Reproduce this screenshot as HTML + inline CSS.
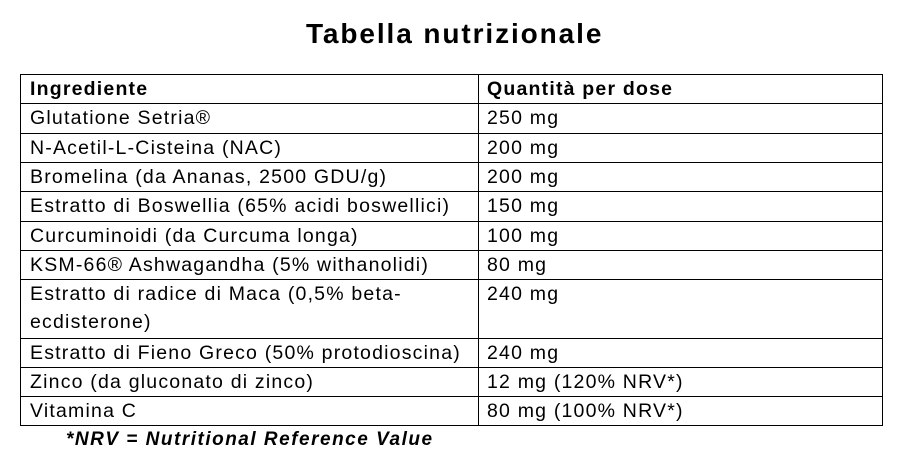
<!DOCTYPE html>
<html><head><meta charset="utf-8"><style>
body{margin:0;width:902px;height:462px;background:#fff;position:relative;font-family:"Liberation Sans",sans-serif;color:#000;overflow:hidden}
.h{position:absolute;left:20px;width:863px;height:1px;background:#000}
.v{position:absolute;top:74px;height:352px;width:1px;background:#000}
.t{position:absolute;font-size:19.5px;line-height:22px;white-space:nowrap;letter-spacing:1.2px}
</style></head><body>
<div class="t" style="left:306px;top:18px;font-size:28px;line-height:32px;font-weight:bold;letter-spacing:1.9px">Tabella nutrizionale</div>
<div class="h" style="top:74px"></div><div class="h" style="top:103px"></div><div class="h" style="top:133px"></div><div class="h" style="top:162px"></div><div class="h" style="top:191px"></div><div class="h" style="top:221px"></div><div class="h" style="top:250px"></div><div class="h" style="top:279px"></div><div class="h" style="top:338px"></div><div class="h" style="top:367px"></div><div class="h" style="top:396px"></div><div class="h" style="top:425px"></div>
<div class="v" style="left:20px"></div><div class="v" style="left:478px"></div><div class="v" style="left:882px"></div>
<div class="t" style="left:30px;top:78px;font-weight:bold">Ingrediente</div><div class="t" style="left:487px;top:78px;font-weight:bold">Quantità per dose</div>
<div class="t" style="left:30px;top:107px">Glutatione Setria®</div><div class="t" style="left:487px;top:107px">250 mg</div>
<div class="t" style="left:30px;top:137px">N-Acetil-L-Cisteina (NAC)</div><div class="t" style="left:487px;top:137px">200 mg</div>
<div class="t" style="left:30px;top:166px">Bromelina (da Ananas, 2500 GDU/g)</div><div class="t" style="left:487px;top:166px">200 mg</div>
<div class="t" style="left:30px;top:195px">Estratto di Boswellia (65% acidi boswellici)</div><div class="t" style="left:487px;top:195px">150 mg</div>
<div class="t" style="left:30px;top:225px">Curcuminoidi (da Curcuma longa)</div><div class="t" style="left:487px;top:225px">100 mg</div>
<div class="t" style="left:30px;top:254px">KSM-66® Ashwagandha (5% withanolidi)</div><div class="t" style="left:487px;top:254px">80 mg</div>
<div class="t" style="left:30px;top:283px">Estratto di radice di Maca (0,5% beta-</div><div class="t" style="left:30px;top:311px">ecdisterone)</div><div class="t" style="left:487px;top:283px">240 mg</div>
<div class="t" style="left:30px;top:342px">Estratto di Fieno Greco (50% protodioscina)</div><div class="t" style="left:487px;top:342px">240 mg</div>
<div class="t" style="left:30px;top:371px">Zinco (da gluconato di zinco)</div><div class="t" style="left:487px;top:371px">12 mg (120% NRV*)</div>
<div class="t" style="left:30px;top:400px">Vitamina C</div><div class="t" style="left:487px;top:400px">80 mg (100% NRV*)</div>
<div class="t" style="left:66px;top:429px;font-size:19px;font-weight:bold;font-style:italic;letter-spacing:1.5px">*NRV = Nutritional Reference Value</div>
</body></html>
